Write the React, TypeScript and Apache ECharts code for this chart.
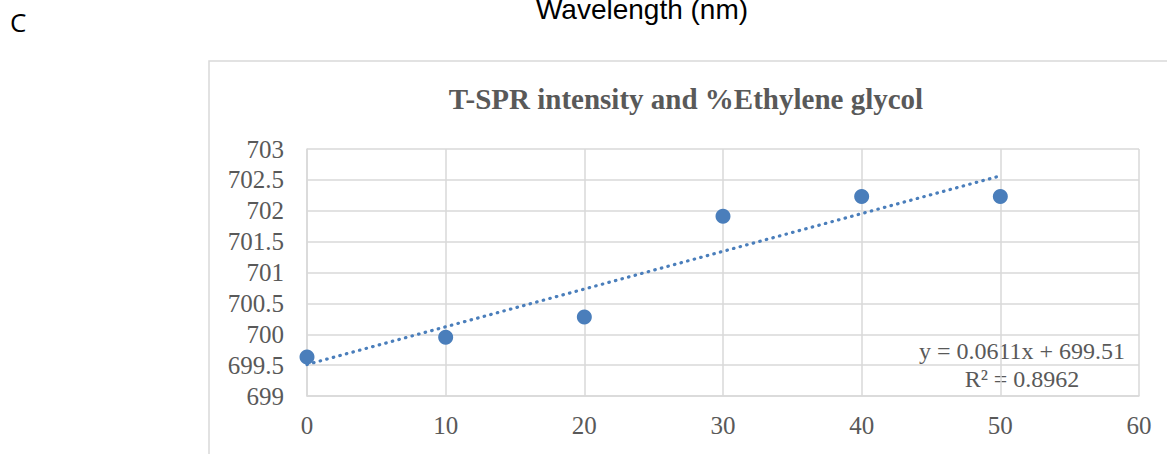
import React, { useEffect, useRef } from "react";
import * as echarts from "echarts";

const xValues = [0, 10, 20, 30, 40, 50];
const yValues = [699.63, 699.95, 700.28, 701.91, 702.23, 702.23];
const trendSlope = 0.0611;
const trendIntercept = 699.51;
const trendRange = [0, 50];
const titleText = "T-SPR intensity and %Ethylene glycol";
const eqText = "y = 0.0611x + 699.51";
const r2Text = "R² = 0.8962";

const BLUE = "#4a7ebb";
const GRID = "#d9d9d9";
const TXT = "#595959";
const SERIF = "'Liberation Serif', 'Times New Roman', serif";

export default function App() {
  const ref = useRef<HTMLDivElement>(null);
  useEffect(() => {
    document.body.style.margin = "0";
    if (!ref.current) return;
    const chart = echarts.init(ref.current, undefined, { renderer: "svg" });
    const points = xValues.map((x, i) => [x, yValues[i]]);
    const trend = trendRange.map((x) => [x, trendIntercept + trendSlope * x]);
    chart.setOption({
      animation: false,
      backgroundColor: "#ffffff",
      grid: { left: 307, right: 28, top: 149, bottom: 58, containLabel: false },
      xAxis: {
        type: "value",
        min: 0,
        max: 60,
        interval: 10,
        axisLine: { show: true, lineStyle: { color: GRID, width: 1.5 } },
        axisTick: { show: false },
        splitLine: { show: true, lineStyle: { color: GRID, width: 1.5 } },
        axisLabel: { color: TXT, fontFamily: SERIF, fontSize: 25, margin: 17 },
      },
      yAxis: {
        type: "value",
        min: 699,
        max: 703,
        interval: 0.5,
        axisLine: { show: true, lineStyle: { color: GRID, width: 1.5 } },
        axisTick: { show: false },
        splitLine: { show: true, lineStyle: { color: GRID, width: 1.5 } },
        axisLabel: { color: TXT, fontFamily: SERIF, fontSize: 25, margin: 23 },
      },
      series: [
        {
          type: "scatter",
          data: points,
          symbol: "circle",
          symbolSize: 15,
          itemStyle: { color: BLUE, opacity: 1 },
          z: 2,
        },
        {
          type: "line",
          data: trend,
          symbol: "none",
          lineStyle: { color: BLUE, width: 3.2, type: [0.5, 6.3], cap: "round" },
          z: 3,
        },
      ],
      graphic: [
        {
          type: "rect",
          shape: { x: 209, y: 61, width: 1000, height: 500 },
          style: { fill: "none", stroke: GRID, lineWidth: 1.5 },
          silent: true,
        },
        {
          type: "text",
          x: 10,
          y: 9,
          style: { text: "C", fontFamily: "'Open Sans', sans-serif", fontSize: 26, fill: "#000", verticalAlign: "top" },
        },
        {
          type: "text",
          x: 642,
          y: -5,
          style: { text: "Wavelength (nm)", fontFamily: "'Liberation Sans', Arial, sans-serif", fontSize: 28, fill: "#000", align: "center", verticalAlign: "top" },
        },
        {
          type: "text",
          x: 686,
          y: 84,
          style: { text: titleText, fontFamily: SERIF, fontSize: 29, fontWeight: "bold", fill: TXT, align: "center", verticalAlign: "top" },
        },
        {
          type: "text",
          x: 1022,
          y: 339,
          style: { text: eqText, fontFamily: SERIF, fontSize: 24, fill: TXT, align: "center", verticalAlign: "top" },
        },
        {
          type: "text",
          x: 1022,
          y: 367,
          style: { text: r2Text, fontFamily: SERIF, fontSize: 24, fill: TXT, align: "center", verticalAlign: "top" },
        },
      ],
    });
    return () => chart.dispose();
  }, []);
  return <div ref={ref} style={{ width: 1167, height: 454 }} />;
}
